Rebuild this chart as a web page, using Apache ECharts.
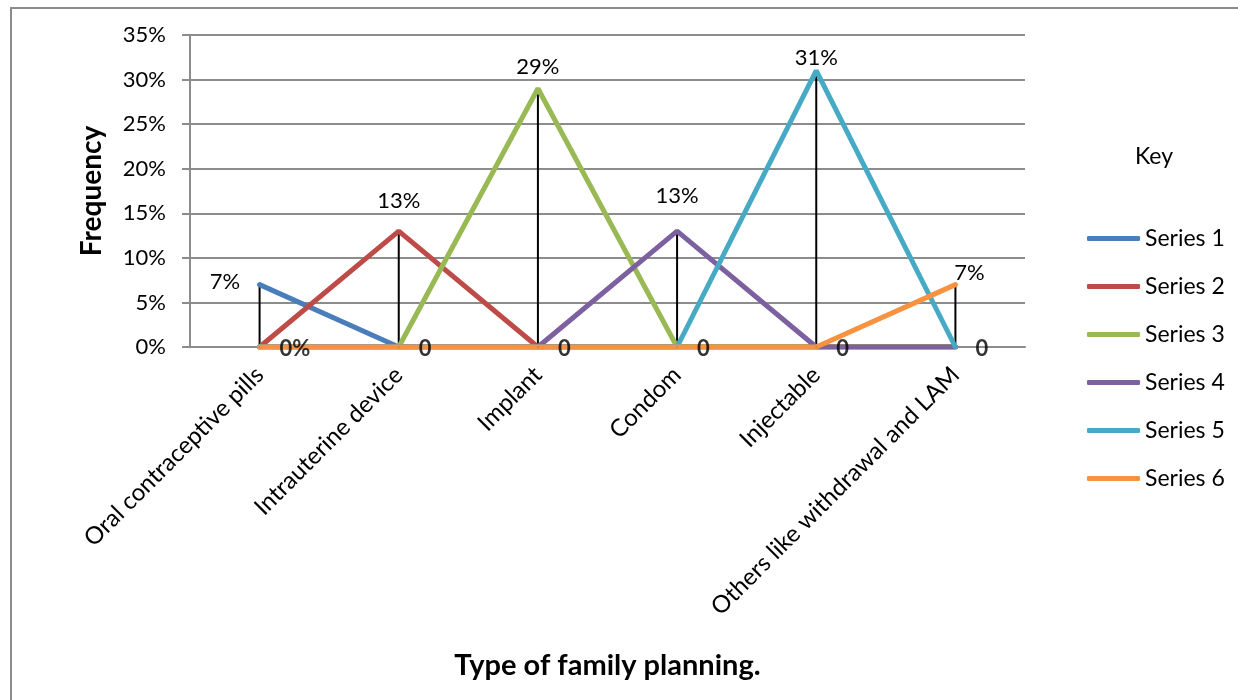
<!DOCTYPE html>
<html>
<head>
<meta charset="utf-8">
<script src="https://cdn.jsdelivr.net/npm/echarts@6/dist/echarts.min.js"></script>
<style>
  html, body { margin: 0; padding: 0; background: #fff; }
  #chart { width: 1238px; height: 700px; }
</style>
</head>
<body>
<div id="chart"></div>
<script>
const categories = ['Oral contraceptive pills', 'Intrauterine device', 'Implant', 'Condom', 'Injectable', 'Others like withdrawal and LAM'];
const seriesNames = ['Series 1', 'Series 2', 'Series 3', 'Series 4', 'Series 5', 'Series 6'];
const series1 = [7, 0, 0, 0, 0, 0];
const series2 = [0, 13, 0, 0, 0, 0];
const series3 = [0, 0, 29, 0, 0, 0];
const series4 = [0, 0, 0, 13, 0, 0];
const series5 = [0, 0, 0, 0, 31, 0];
const series6 = [0, 0, 0, 0, 0, 7];
const zeroLabels = ['0%', '0', '0', '0', '0', '0'];
const yTicks = [0, 5, 10, 15, 20, 25, 30, 35];

const allSeries = [series1, series2, series3, series4, series5, series6];
const colors = ['#4A7EBB', '#BE4B48', '#98B954', '#7D60A0', '#46AAC5', '#F69240'];
// where each peak label sits (hand-placed in the original)
const labelPos = [
  { position: 'left', distance: 19, offset: [0, -3] },
  { position: 'top', distance: 19, offset: [0, 0] },
  { position: 'top', distance: 10, offset: [0, 0] },
  { position: 'top', distance: 24, offset: [0, 0] },
  { position: 'top', distance: 1, offset: [0, 0] },
  { position: 'top', distance: 0, offset: [14, 0] },
];
const dropValues = categories.map((c, i) => Math.max(...allSeries.map((s) => s[i])));

const font = 'Lato, "Open Sans", sans-serif';
const chart = echarts.init(document.getElementById('chart'));

const lineSeries = allSeries.map((data, k) => ({
  name: seriesNames[k],
  type: 'line',
  data: data,
  symbol: 'circle',
  symbolSize: 1,
  showSymbol: true,
  lineStyle: { width: 5, color: colors[k], cap: 'round' },
  itemStyle: { color: colors[k] },
  label: {
    show: true,
    ...labelPos[k],
    color: '#000',
    fontFamily: font,
    fontSize: 22,
    formatter: (p) => (p.value > 0 ? p.value + '%' : ''),
  },
}));

const option = {
  animation: false,
  backgroundColor: '#fff',
  textStyle: { fontFamily: font },
  graphic: [
    {
      type: 'rect',
      shape: { x: 11, y: 8, width: 1400, height: 900 },
      style: { fill: 'none', stroke: '#8c8c8c', lineWidth: 2 },
      silent: true,
    },
  ],
  title: {
    text: 'Key',
    left: 1130,
    top: 140,
    textStyle: { fontFamily: font, fontSize: 23, fontWeight: 'normal', color: '#000' },
  },
  legend: {
    data: seriesNames,
    orient: 'vertical',
    left: 1082,
    top: 222,
    icon: 'roundRect',
    itemWidth: 53,
    itemHeight: 5,
    itemGap: 25,
    textStyle: { fontFamily: font, fontSize: 23, color: '#000' },
  },
  grid: {
    left: 190,
    right: 213,
    top: 35,
    bottom: 353,
  },
  xAxis: {
    type: 'category',
    data: categories,
    boundaryGap: true,
    name: 'Type of family planning.',
    nameLocation: 'middle',
    nameGap: 304,
    nameTextStyle: { fontFamily: font, fontSize: 29, fontWeight: 'bold', color: '#000' },
    axisLine: { show: true, lineStyle: { color: '#8c8c8c', width: 2 } },
    axisTick: { show: false },
    axisLabel: {
      rotate: 45,
      margin: 24,
      fontFamily: font,
      fontSize: 24,
      color: '#000',
      interval: 0,
    },
  },
  yAxis: {
    type: 'value',
    min: yTicks[0],
    max: yTicks[yTicks.length - 1],
    interval: 5,
    name: 'Frequency',
    nameLocation: 'middle',
    nameGap: 84,
    nameTextStyle: { fontFamily: font, fontSize: 28, fontWeight: 'bold', color: '#000' },
    axisLine: { show: true, lineStyle: { color: '#8c8c8c', width: 2 } },
    axisTick: { show: true, length: 8, lineStyle: { color: '#8c8c8c', width: 2 } },
    axisLabel: {
      formatter: '{value}%',
      margin: 24,
      fontFamily: font,
      fontSize: 22,
      color: '#000',
    },
    splitLine: { show: true, lineStyle: { color: '#8c8c8c', width: 2 } },
  },
  series: [
    ...lineSeries,
    {
      name: 'drop',
      type: 'bar',
      data: dropValues,
      barWidth: 2,
      itemStyle: { color: '#000' },
      z: 3,
      silent: true,
    },
    {
      name: 'zeros',
      type: 'scatter',
      data: zeroLabels.map(() => 0),
      symbolSize: 0,
      z: 4,
      silent: true,
      label: {
        show: true,
        position: 'right',
        distance: 20,
        offset: [0, 2],
        color: '#000',
        fontFamily: font,
        fontSize: 22,
        fontWeight: 'bold',
        formatter: (p) => zeroLabels[p.dataIndex],
      },
    },
  ],
};

chart.setOption(option);
</script>
</body>
</html>
